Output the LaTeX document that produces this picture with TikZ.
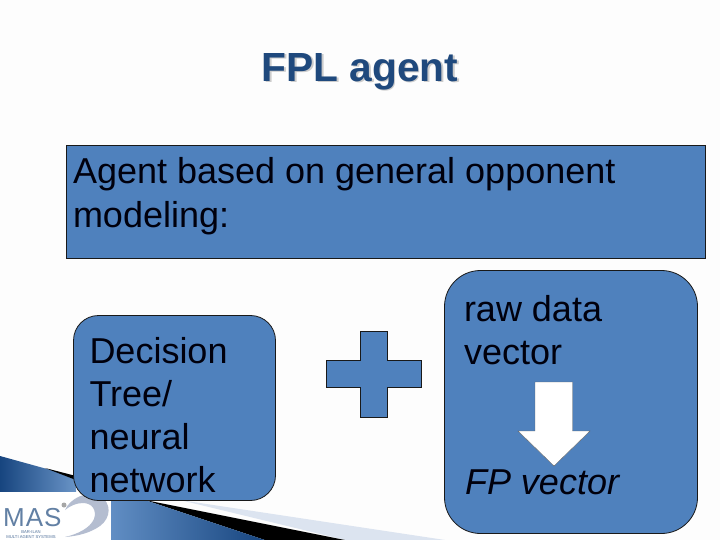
\documentclass[tikz,border=0pt]{standalone}
\usepackage{fontspec}
\setmainfont{Liberation Sans}
\definecolor{boxblue}{HTML}{4F81BD}
\definecolor{titleblue}{HTML}{1F497D}
\definecolor{wedgedark}{HTML}{17457F}
\definecolor{lightwedge}{HTML}{DCE4F0}
\definecolor{swoosh}{HTML}{B4BDD0}
\definecolor{paper}{HTML}{FDFDFD}
\tikzset{
  panel/.style={draw=black!90,line width=0.8pt,fill=boxblue},
  body/.style={font=\fontsize{36}{43}\selectfont,text=black!95!blue,anchor=base west,inner sep=0pt,outer sep=0pt},
}
\begin{document}
\begin{tikzpicture}[x=1pt,y=-1pt]
\useasboundingbox (0,0) rectangle (720,540);
\fill[paper] (0,0) rectangle (720,540);
% bottom decoration
\fill[lightwedge] (180,500) -- (445,540) -- (345,540) -- cycle;
\fill[black] (145,500) -- (345,540) -- (265,540) -- cycle;
\shade[left color=wedgedark,right color=boxblue!85!white] (0,456) -- (76,477) -- (76,492) -- (0,492) -- cycle;
\fill[black] (45,468) -- (76,476) -- (76,480) -- cycle;
\shade[left color=boxblue!90!white,right color=wedgedark] (111,500) -- (145,500) -- (265,540) -- (111,540) -- cycle;
% logo
\fill[white] (0,492) rectangle (111,540);
\fill[swoosh] (65,510) .. controls (70,498) and (88,490) .. (100,496) .. controls (112,503) and (111,518) .. (100,526) .. controls (90,533) and (78,536) .. (65,537) .. controls (78,534) and (90,528) .. (94,519) .. controls (97,510) and (92,503) .. (83,503) .. controls (76,503) and (70,506) .. (65,510) -- cycle;
\fill[black!35] (64,505) circle (2.5pt);
\node[name=logo,font=\fontsize{26}{26}\selectfont,text=titleblue!70,anchor=base west,inner sep=0pt] at (3,526) {M\hspace{1pt}A\hspace{1pt}S};
\node[name=logosub,font=\fontsize{4.2}{4.5}\selectfont,text=titleblue!80,align=center,inner sep=0pt] at (31,534.5) {BAR-ILAN\\MULTI AGENT SYSTEMS};
% title
\node[name=titleshadow,font=\bfseries\fontsize{40.7}{41}\selectfont,text=black!20,anchor=base,inner sep=0pt] at (361.5,83) {FPL agent};
\node[name=titletext,font=\bfseries\fontsize{40.7}{41}\selectfont,text=titleblue,anchor=base,inner sep=0pt] at (360,81.5) {FPL agent};
% top box
\node[name=topbox,panel,rectangle,minimum width=639pt,minimum height=113pt,inner sep=0pt] at (386,202) {};
\node[name=toptext1,body] at (73,184) {Agent based on general opponent};
\node[name=toptext2,body] at (73,227) {modeling:};
% left box
\node[name=leftbox,panel,rectangle,rounded corners=25pt,minimum width=202pt,minimum height=185pt,inner sep=0pt] at (174.5,408) {};
\node[name=l1,body] at (89.5,363) {Decision};
\node[name=l2,body] at (89.5,406) {Tree/};
\node[name=l3,body] at (89.5,449) {neural};
\node[name=l4,body] at (89.5,492) {network};
% plus
\draw[panel,line width=0.7pt] (360,331) -- (387,331) -- (387,360) -- (421,360) -- (421,387) -- (387,387) -- (387,417) -- (360,417) -- (360,387) -- (326,387) -- (326,360) -- (360,360) -- cycle;
% right box
\node[name=rightbox,panel,rectangle,rounded corners=36pt,minimum width=253pt,minimum height=263pt,inner sep=0pt] at (571,402) {};
\node[name=r1,body] at (464,321) {raw data};
\node[name=r2,body] at (464,364) {vector};
\node[name=r3,body,font=\itshape\fontsize{36}{43}\selectfont] at (465,494) {FP vector};
% arrow
\draw[fill=white,draw=black!60,line width=0.4pt] (535,382) -- (572.5,382) -- (572.5,431) -- (590,431) -- (554,466) -- (518,431) -- (535,431) -- cycle;
\end{tikzpicture}
\end{document}
